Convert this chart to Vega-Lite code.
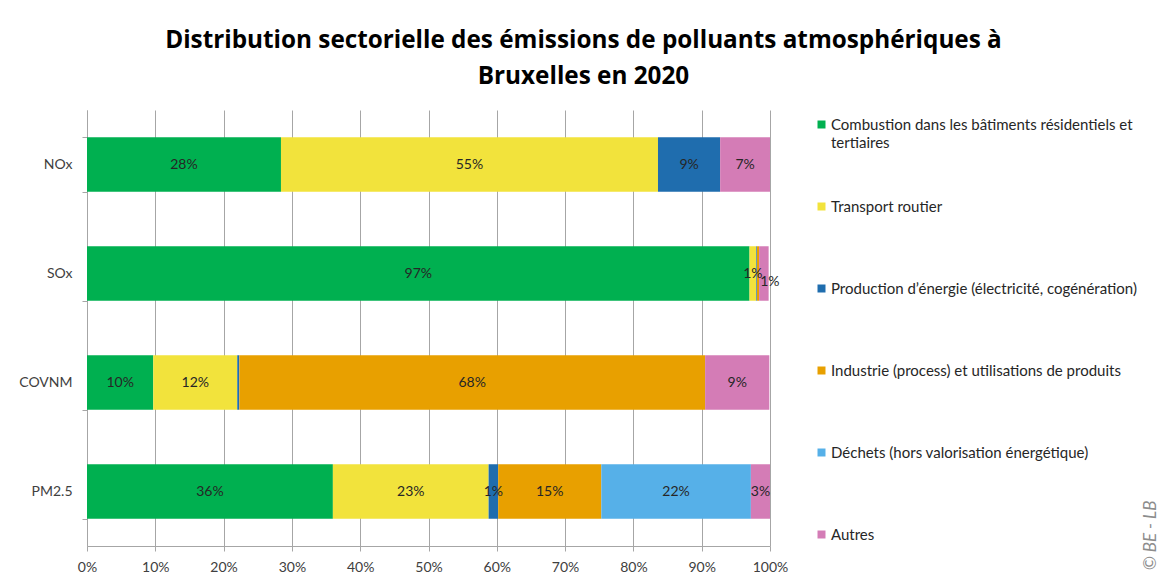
{
  "$schema": "https://vega.github.io/schema/vega-lite/v6.json",
  "width": 683,
  "height": 436,
  "autosize": {"type": "none"},
  "padding": {"left": 87, "top": 110, "right": 394, "bottom": 39},
  "background": "white",
  "title": {
    "text": ["Distribution sectorielle des émissions de polluants atmosphériques à", "Bruxelles en 2020"],
    "anchor": "middle",
    "frame": "group",
    "dx": 155,
    "offset": 14,
    "font": "Open Sans",
    "fontSize": 24.3,
    "fontWeight": "bold",
    "color": "#000000",
    "lineHeight": 36
  },
  "data": {
    "values": [
      {"polluant": "NOx", "secteur": "Combustion dans les bâtiments résidentiels et tertiaires", "rang": 1, "value": 0.284},
      {"polluant": "NOx", "secteur": "Transport routier", "rang": 2, "value": 0.552},
      {"polluant": "NOx", "secteur": "Production d’énergie (électricité, cogénération)", "rang": 3, "value": 0.091},
      {"polluant": "NOx", "secteur": "Autres", "rang": 6, "value": 0.073},
      {"polluant": "SOx", "secteur": "Combustion dans les bâtiments résidentiels et tertiaires", "rang": 1, "value": 0.970},
      {"polluant": "SOx", "secteur": "Transport routier", "rang": 2, "value": 0.010},
      {"polluant": "SOx", "secteur": "Production d’énergie (électricité, cogénération)", "rang": 3, "value": 0.001},
      {"polluant": "SOx", "secteur": "Industrie (process) et utilisations de produits", "rang": 4, "value": 0.003},
      {"polluant": "SOx", "secteur": "Autres", "rang": 6, "value": 0.014},
      {"polluant": "COVNM", "secteur": "Combustion dans les bâtiments résidentiels et tertiaires", "rang": 1, "value": 0.097},
      {"polluant": "COVNM", "secteur": "Transport routier", "rang": 2, "value": 0.123},
      {"polluant": "COVNM", "secteur": "Production d’énergie (électricité, cogénération)", "rang": 3, "value": 0.003},
      {"polluant": "COVNM", "secteur": "Industrie (process) et utilisations de produits", "rang": 4, "value": 0.682},
      {"polluant": "COVNM", "secteur": "Autres", "rang": 6, "value": 0.094},
      {"polluant": "PM2.5", "secteur": "Combustion dans les bâtiments résidentiels et tertiaires", "rang": 1, "value": 0.360},
      {"polluant": "PM2.5", "secteur": "Transport routier", "rang": 2, "value": 0.228},
      {"polluant": "PM2.5", "secteur": "Production d’énergie (électricité, cogénération)", "rang": 3, "value": 0.014},
      {"polluant": "PM2.5", "secteur": "Industrie (process) et utilisations de produits", "rang": 4, "value": 0.151},
      {"polluant": "PM2.5", "secteur": "Déchets (hors valorisation énergétique)", "rang": 5, "value": 0.219},
      {"polluant": "PM2.5", "secteur": "Autres", "rang": 6, "value": 0.028}
    ]
  },
  "transform": [
    {"stack": "value", "groupby": ["polluant"], "sort": [{"field": "rang"}], "as": ["v0", "v1"]},
    {"calculate": "(datum.v0 + datum.v1) / 2", "as": "milieu"}
  ],
  "layer": [
    {
      "mark": {"type": "bar"},
      "encoding": {
        "y": {
          "field": "polluant",
          "type": "nominal",
          "sort": ["NOx", "SOx", "COVNM", "PM2.5"],
          "scale": {"paddingInner": 0.5, "paddingOuter": 0.25},
          "axis": {
            "orient": "left",
            "title": null,
            "tickBand": "extent",
            "tickSize": 5,
            "tickColor": "#A6A6A6",
            "domainColor": "#A6A6A6",
            "labelPadding": 10,
            "labelFont": "Lato",
            "labelFontSize": 14,
            "labelColor": "#404040",
            "grid": false
          }
        },
        "x": {
          "field": "v0",
          "type": "quantitative",
          "scale": {"domain": [0, 1], "nice": false},
          "axis": {
            "title": null,
            "format": ".0%",
            "values": [0, 0.1, 0.2, 0.3, 0.4, 0.5, 0.6, 0.7, 0.8, 0.9, 1],
            "grid": true,
            "gridColor": "#A6A6A6",
            "domainColor": "#A6A6A6",
            "tickColor": "#A6A6A6",
            "tickSize": 5,
            "labelPadding": 9,
            "labelFont": "Lato",
            "labelFontSize": 14,
            "labelColor": "#404040",
            "labelFlush": false
          }
        },
        "x2": {"field": "v1"},
        "color": {
          "field": "secteur",
          "type": "nominal",
          "scale": {
            "domain": [
              "Combustion dans les bâtiments résidentiels et tertiaires",
              "Transport routier",
              "Production d’énergie (électricité, cogénération)",
              "Industrie (process) et utilisations de produits",
              "Déchets (hors valorisation énergétique)",
              "Autres"
            ],
            "range": ["#00B050", "#F2E33C", "#1F6DAE", "#E8A000", "#56B0E8", "#D47CB6"]
          },
          "legend": {
            "orient": "none",
            "legendX": 727,
            "legendY": 7,
            "title": null,
            "symbolType": "square",
            "symbolSize": 64,
            "symbolStrokeWidth": 0,
            "labelFont": "Lato",
            "labelFontSize": 15,
            "labelColor": "#262626",
            "labelOffset": 2,
            "labelLimit": 400,
            "rowPadding": 48,
            "labelExpr": "datum.label == 'Combustion dans les bâtiments résidentiels et tertiaires' ? ['Combustion dans les bâtiments résidentiels et', 'tertiaires'] : [datum.label, ' ']",
            "encode": {
              "labels": {
                "update": {
                  "lineHeight": {"value": 18}
                }
              }
            }
          }
        }
      }
    },
    {
      "transform": [{"filter": "datum.value >= 0.008 && !(datum.polluant == 'SOx' && datum.rang == 6)"}],
      "mark": {"type": "text", "font": "Lato", "fontSize": 14, "color": "#262626"},
      "encoding": {
        "y": {
          "field": "polluant",
          "type": "nominal",
          "sort": ["NOx", "SOx", "COVNM", "PM2.5"],
          "axis": {
            "orient": "right",
            "title": "© BE - LB",
            "titleAngle": 270,
            "titleX": 380,
            "titleY": 425,
            "titleAlign": "center",
            "titleBaseline": "middle",
            "titleFont": "Lato",
            "titleFontSize": 17,
            "titleFontStyle": "italic",
            "titleFontWeight": "normal",
            "titleColor": "#8C8C8C",
            "labels": false,
            "ticks": false,
            "domain": false,
            "grid": false
          }
        },
        "x": {"field": "milieu", "type": "quantitative"},
        "text": {"field": "value", "type": "quantitative", "format": ".0%"}
      }
    },
    {
      "transform": [{"filter": "datum.polluant == 'SOx' && datum.rang == 6"}],
      "mark": {"type": "text", "font": "Lato", "fontSize": 14, "color": "#262626", "dx": 6, "dy": 8},
      "encoding": {
        "y": {"field": "polluant", "type": "nominal", "sort": ["NOx", "SOx", "COVNM", "PM2.5"], "axis": null},
        "x": {"field": "milieu", "type": "quantitative"},
        "text": {"field": "value", "type": "quantitative", "format": ".0%"}
      }
    }
  ],
  "resolve": {"axis": {"y": "independent"}},
  "config": {
    "view": {"stroke": null}
  }
}
